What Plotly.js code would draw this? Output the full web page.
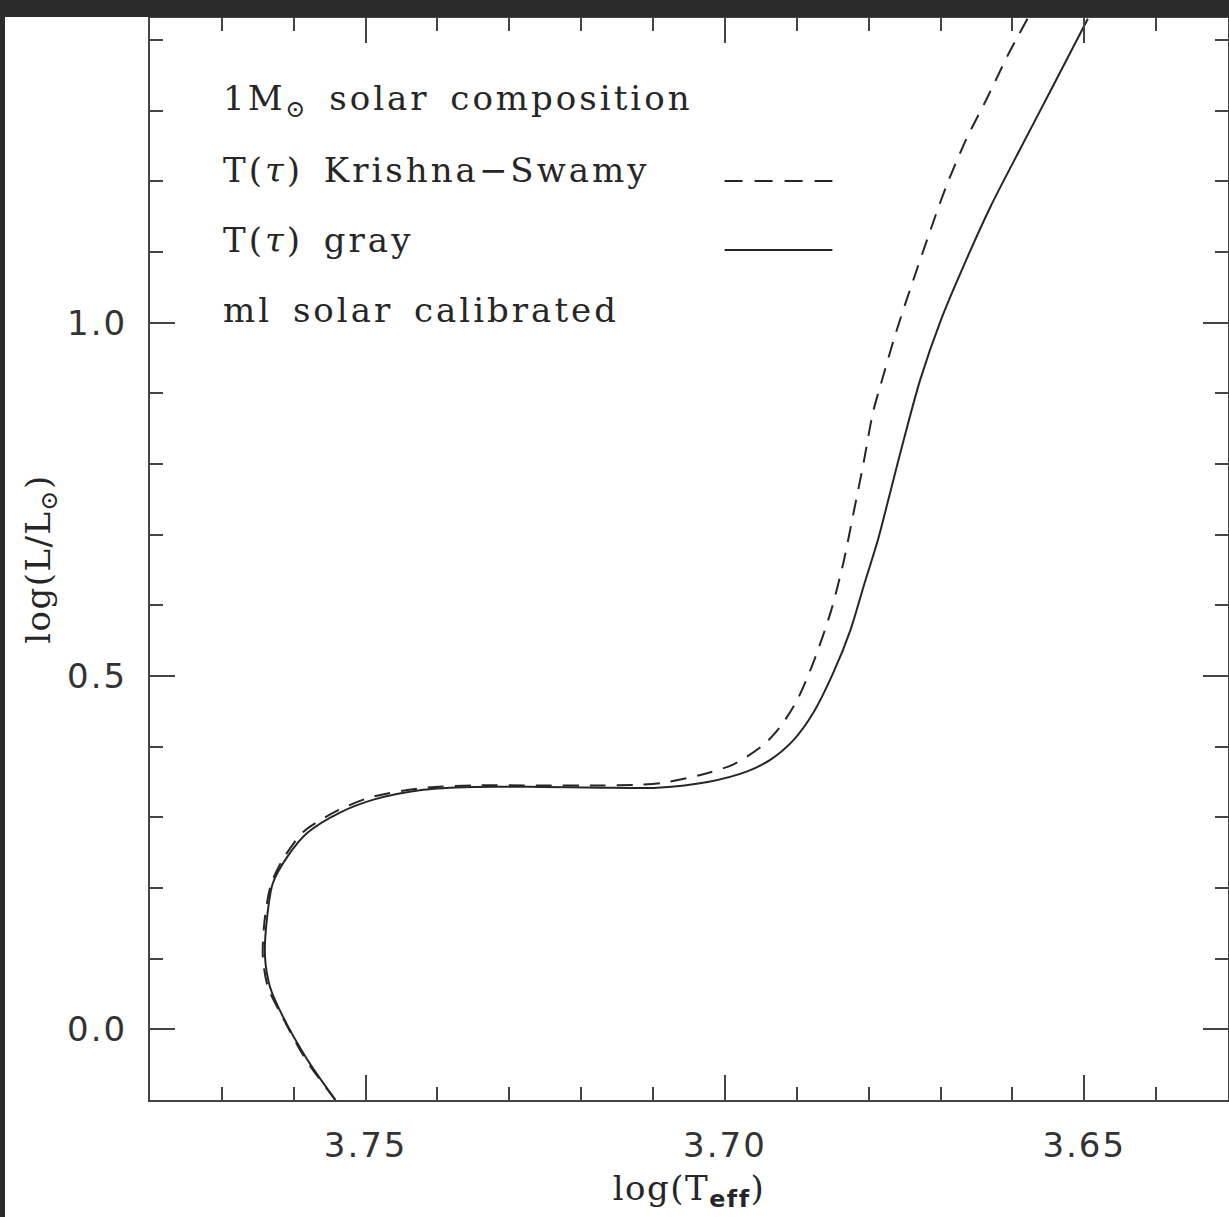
<!DOCTYPE html>
<html>
<head>
<meta charset="utf-8">
<script src="https://cdn.plot.ly/plotly-3.0.1.min.js"></script>
<style>
  html, body { margin: 0; padding: 0; background: #2b2b2b; width: 1229px; height: 1217px; overflow: hidden; }
  #chart { position: absolute; left: 5px; top: 17px; width: 1224px; height: 1200px; background: #ffffff; }
  .annotation-text { letter-spacing: 3px; word-spacing: 7px; }
  #chart g.xtick text, #chart g.ytick text { letter-spacing: 2px; }
  #chart text.xtitle, #chart text.ytitle { letter-spacing: 1.5px; }
</style>
</head>
<body>
<div id="chart"></div>
<script>
// T(tau) gray track (solid)
const grayLogTeff = [3.7542, 3.7581, 3.7615, 3.7633, 3.7640, 3.7637, 3.7629, 3.7609, 3.7581, 3.7535, 3.7489, 3.7420, 3.7350, 3.7257, 3.7173, 3.7094, 3.7024, 3.6969, 3.6936, 3.6904, 3.6877, 3.6849, 3.6825, 3.6807, 3.6787, 3.6769, 3.6751, 3.6728, 3.6699, 3.6668, 3.6630, 3.6589, 3.6548, 3.6495];
const grayLogL    = [-0.100, -0.043, 0.018, 0.060, 0.103, 0.159, 0.207, 0.244, 0.278, 0.307, 0.325, 0.339, 0.343, 0.343, 0.342, 0.342, 0.350, 0.365, 0.382, 0.410, 0.448, 0.505, 0.566, 0.627, 0.693, 0.764, 0.835, 0.920, 1.005, 1.080, 1.165, 1.246, 1.326, 1.430];

// T(tau) Krishna-Swamy track (dashed)
const ksLogTeff = [3.7542, 3.7583, 3.7616, 3.7636, 3.7643, 3.7640, 3.7631, 3.7613, 3.7586, 3.7540, 3.7494, 3.7424, 3.7350, 3.7257, 3.7173, 3.7118, 3.7085, 3.7034, 3.6988, 3.6946, 3.6923, 3.6899, 3.6877, 3.6853, 3.6835, 3.6821, 3.6807, 3.6794, 3.6783, 3.6762, 3.6739, 3.6715, 3.6692, 3.6664, 3.6636, 3.6607, 3.6579];
const ksLogL    = [-0.100, -0.043, 0.018, 0.060, 0.103, 0.159, 0.207, 0.244, 0.280, 0.309, 0.328, 0.341, 0.345, 0.345, 0.345, 0.346, 0.349, 0.360, 0.375, 0.403, 0.428, 0.467, 0.519, 0.590, 0.661, 0.731, 0.802, 0.873, 0.913, 0.986, 1.057, 1.128, 1.193, 1.260, 1.316, 1.377, 1.430];

// Axes
const xRange = [3.78, 3.63];
const yRange = [-0.1, 1.431];
const xTickVals = [3.75, 3.70, 3.65];
const xTickText = ['3.75', '3.70', '3.65'];
const yTickVals = [0.0, 0.5, 1.0];
const yTickText = ['0.0', '0.5', '1.0'];

// Legend text lines
const legendLines = [
  '1M<sub>⊙</sub> solar composition',
  'T(<i>τ</i>) Krishna−Swamy',
  'T(<i>τ</i>) gray',
  'ml solar calibrated'
];

const ink = '#262626';
const serif = 'DejaVu Serif, Liberation Serif, serif';
const sans = 'DejaVu Sans, Liberation Sans, sans-serif';

const traces = [
  { x: ksLogTeff, y: ksLogL, mode: 'lines', name: 'T(τ) Krishna−Swamy',
    line: { color: ink, width: 2, dash: '16px,11px', shape: 'spline', smoothing: 0.8 }, hoverinfo: 'skip' },
  { x: grayLogTeff, y: grayLogL, mode: 'lines', name: 'T(τ) gray',
    line: { color: ink, width: 2, shape: 'spline', smoothing: 0.8 }, hoverinfo: 'skip' }
];

const legendY = [0.924, 0.8595, 0.7948, 0.7301];
const annotations = legendLines.map((t, i) => ({
  xref: 'paper', yref: 'paper', x: 0.0655, y: legendY[i], xanchor: 'left', yanchor: 'middle',
  align: 'left',
  text: t, showarrow: false, font: { family: serif, size: 34, color: ink }
}));

const shapes = [
  { type: 'line', xref: 'paper', yref: 'paper', x0: 0.533, x1: 0.633, y0: 0.8494, y1: 0.8494,
    line: { color: ink, width: 2, dash: '18px,12px' } },
  { type: 'line', xref: 'paper', yref: 'paper', x0: 0.533, x1: 0.633, y0: 0.7856, y1: 0.7856,
    line: { color: ink, width: 2 } }
];

const axisCommon = {
  showgrid: false, zeroline: false, showline: true, linecolor: '#444', linewidth: 2,
  mirror: 'ticks', ticks: 'inside', ticklen: 25, tickwidth: 2, tickcolor: '#444',
  tickfont: { family: sans, size: 34, color: '#333' }, fixedrange: true
};

const layout = {
  width: 1224, height: 1200,
  margin: { l: 145, r: 1, t: 1, b: 117, pad: 0 },
  paper_bgcolor: '#ffffff', plot_bgcolor: '#ffffff',
  showlegend: false,
  xaxis: Object.assign({}, axisCommon, {
    range: xRange, tickmode: 'array', tickvals: xTickVals, ticktext: xTickText,
    ticklabelstandoff: 14,
    minor: { dtick: 0.01, tick0: 3.6, ticks: 'inside', ticklen: 13, tickwidth: 2, tickcolor: '#444', showgrid: false },
    title: { text: 'log(T<sub><span style="font-family:DejaVu Sans;font-weight:bold">eff</span></sub>)',
             font: { family: serif, size: 34, color: ink }, standoff: 12 }
  }),
  yaxis: Object.assign({}, axisCommon, {
    range: yRange, tickmode: 'array', tickvals: yTickVals, ticktext: yTickText,
    ticklabelstandoff: 14,
    minor: { dtick: 0.1, tick0: 0, ticks: 'inside', ticklen: 13, tickwidth: 2, tickcolor: '#444', showgrid: false },
    title: { text: 'log(L/L<sub>⊙</sub>)', font: { family: serif, size: 34, color: ink }, standoff: 12 }
  }),
  annotations: annotations,
  shapes: shapes
};

Plotly.newPlot('chart', traces, layout, { staticPlot: true, displayModeBar: false });
</script>
</body>
</html>
